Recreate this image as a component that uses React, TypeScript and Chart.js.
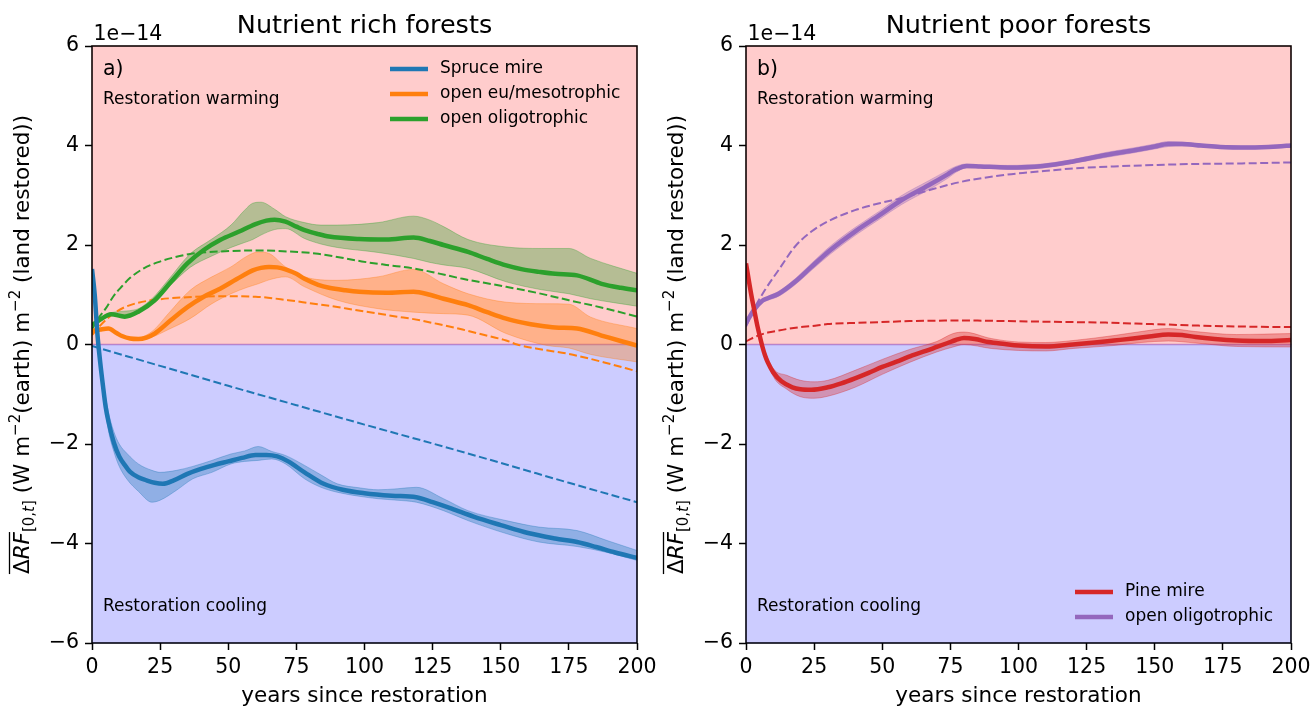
import React, { useEffect, useRef } from "react";
import { Chart, registerables } from "chart.js";
Chart.register(...registerables);

const F = '"DejaVu Sans", sans-serif';

// ---------- Panel a) Nutrient rich forests ----------
const spruceYears = [0, 1, 2, 3, 4, 5, 6, 8, 10, 12, 14, 17, 20, 23, 26, 30, 35, 40, 45, 50, 55, 60, 64, 68, 72, 78, 85, 92, 100, 110, 119, 125, 132, 140, 150, 160, 170, 178, 185, 192, 200];
const spruceMean = [1.52, 1.0, 0.2, -0.35, -0.82, -1.25, -1.54, -1.97, -2.25, -2.42, -2.56, -2.67, -2.73, -2.78, -2.8, -2.73, -2.6, -2.5, -2.42, -2.35, -2.28, -2.22, -2.22, -2.25, -2.35, -2.57, -2.8, -2.92, -2.99, -3.04, -3.07, -3.17, -3.3, -3.46, -3.63, -3.79, -3.9, -3.97, -4.07, -4.18, -4.29];
const spruceBandYears = [0, 2, 4, 6, 8, 10, 13, 17, 22, 25, 31, 37, 44, 51, 56, 61, 66, 71, 78, 84, 90, 98, 105, 112, 119, 129, 138, 152, 164, 178, 189, 200];
const spruceUpper = [1.52, 0.2, -0.72, -1.35, -1.75, -2.0, -2.2, -2.4, -2.53, -2.57, -2.53, -2.45, -2.33, -2.2, -2.14, -2.05, -2.15, -2.23, -2.43, -2.62, -2.8, -2.88, -2.92, -2.9, -2.87, -3.1, -3.34, -3.54, -3.67, -3.74, -3.94, -4.14];
const spruceLower = [1.52, 0.2, -0.92, -1.72, -2.15, -2.45, -2.72, -2.95, -3.17, -3.13, -2.93, -2.7, -2.57, -2.4, -2.35, -2.33, -2.3, -2.4, -2.7, -2.87, -2.97, -3.05, -3.1, -3.13, -3.17, -3.34, -3.54, -3.8, -3.97, -4.06, -4.18, -4.34];
const spruceModelYears = [0, 25, 50, 75, 100, 125, 150, 175, 200];
const spruceModel = [-0.03, -0.43, -0.83, -1.22, -1.61, -1.99, -2.38, -2.78, -3.17];

const euYears = [0, 3, 6, 9, 11, 14, 17, 20, 23, 29, 35, 41, 47, 53, 59, 62, 65, 68, 71, 75, 78, 83, 87, 93, 98, 108, 118, 124, 129, 138, 145, 152, 158, 164, 170, 178, 187, 194, 200];
const euMean = [0.27, 0.3, 0.32, 0.23, 0.17, 0.12, 0.11, 0.14, 0.22, 0.49, 0.75, 0.96, 1.12, 1.31, 1.49, 1.54, 1.56, 1.55, 1.51, 1.42, 1.32, 1.2, 1.14, 1.09, 1.06, 1.04, 1.06, 1.0, 0.92, 0.79, 0.65, 0.52, 0.44, 0.38, 0.34, 0.32, 0.18, 0.07, -0.02];
const euBandYears = [0, 6, 11, 16, 22, 28, 36, 44, 51, 57, 61, 65, 71, 78, 90, 105, 118, 129, 138, 152, 167, 175, 183, 200];
const euUpper = [0.27, 0.33, 0.19, 0.13, 0.26, 0.62, 1.09, 1.36, 1.56, 1.78, 1.86, 1.83, 1.56, 1.36, 1.29, 1.36, 1.51, 1.22, 1.02, 0.85, 0.82, 0.81, 0.55, 0.32];
const euLower = [0.27, 0.31, 0.15, 0.09, 0.15, 0.3, 0.52, 0.82, 1.02, 1.15, 1.22, 1.3, 1.36, 1.16, 0.89, 0.72, 0.65, 0.62, 0.59, 0.22, -0.02, -0.07, -0.2, -0.35];
const euModelYears = [0, 3, 6, 9, 12, 17, 25, 35, 47, 60, 72, 80, 88, 96, 104, 112, 118, 127, 136, 144, 152, 156, 165, 175, 188, 200];
const euModel = [0.19, 0.38, 0.54, 0.66, 0.75, 0.84, 0.91, 0.95, 0.97, 0.96, 0.89, 0.83, 0.77, 0.7, 0.63, 0.56, 0.51, 0.41, 0.3, 0.19, 0.08, 0.0, -0.1, -0.19, -0.36, -0.54];

const oligoRichYears = [0, 3, 7, 12, 17, 23, 29, 35, 41, 47, 54, 60, 64, 67, 71, 75, 78, 83, 87, 98, 108, 118, 124, 129, 138, 145, 152, 158, 164, 170, 178, 187, 194, 200];
const oligoRichMean = [0.39, 0.5, 0.61, 0.56, 0.66, 0.89, 1.26, 1.63, 1.9, 2.1, 2.27, 2.42, 2.49, 2.51, 2.47, 2.37, 2.3, 2.22, 2.17, 2.12, 2.11, 2.15, 2.08, 2.0, 1.86, 1.72, 1.59, 1.51, 1.46, 1.42, 1.39, 1.22, 1.14, 1.09];
const oligoRichBandYears = [0, 7, 16, 22, 28, 36, 44, 51, 56, 59, 62, 67, 71, 78, 84, 90, 105, 118, 124, 129, 138, 152, 165, 175, 183, 200];
const oligoRichUpper = [0.39, 0.64, 0.7, 0.92, 1.3, 1.82, 2.12, 2.4, 2.7, 2.84, 2.86, 2.72, 2.57, 2.45, 2.4, 2.4, 2.45, 2.58, 2.5, 2.37, 2.11, 1.96, 1.93, 1.93, 1.73, 1.43];
const oligoRichLower = [0.39, 0.58, 0.63, 0.85, 1.15, 1.55, 1.78, 1.95, 2.05, 2.11, 2.2, 2.31, 2.33, 2.13, 2.02, 1.95, 1.85, 1.73, 1.65, 1.6, 1.53, 1.26, 1.1, 1.02, 0.92, 0.77];
const oligoRichModelYears = [0, 2, 5, 8, 11, 14, 19, 24, 30, 36, 47, 60, 72, 82, 90, 99, 108, 118, 127, 136, 144, 152, 164, 175, 188, 200];
const oligoRichModel = [0.3, 0.5, 0.72, 0.98, 1.17, 1.34, 1.53, 1.65, 1.75, 1.82, 1.87, 1.89, 1.87, 1.83, 1.76, 1.67, 1.6, 1.53, 1.43, 1.32, 1.24, 1.16, 1.03, 0.89, 0.73, 0.56];

// ---------- Panel b) Nutrient poor forests ----------
const pineYears = [0, 2, 3, 4, 5, 6, 7, 8, 10, 13, 17, 20, 24, 30, 35, 40, 45, 50, 55, 61, 66, 70, 74, 77, 80, 84, 89, 95, 100, 110, 120, 128, 135, 142, 148, 155, 160, 165, 172, 180, 190, 200];
const pineMean = [1.63, 0.98, 0.7, 0.42, 0.18, -0.04, -0.22, -0.36, -0.56, -0.74, -0.86, -0.9, -0.91, -0.86, -0.78, -0.68, -0.57, -0.45, -0.35, -0.22, -0.13, -0.05, 0.03, 0.09, 0.13, 0.11, 0.05, 0.01, -0.02, -0.04, 0.0, 0.04, 0.08, 0.12, 0.16, 0.2, 0.19, 0.15, 0.11, 0.08, 0.07, 0.09];
const pineBandYears = [0, 5, 10, 15, 20, 25, 30, 40, 50, 60, 70, 76, 80, 90, 100, 110, 120, 135, 145, 155, 165, 180, 200];
const pineUpper = [1.63, 0.21, -0.48, -0.62, -0.72, -0.75, -0.72, -0.52, -0.3, -0.1, 0.06, 0.22, 0.25, 0.12, 0.05, 0.04, 0.08, 0.18, 0.26, 0.32, 0.26, 0.2, 0.22];
const pineLower = [1.63, 0.15, -0.64, -0.9, -1.05, -1.08, -1.04, -0.86, -0.6, -0.36, -0.15, -0.05, 0.0, -0.08, -0.12, -0.13, -0.08, -0.02, 0.04, 0.07, 0.03, -0.04, -0.05];
const pineModelYears = [0, 2, 5, 8, 12, 16, 20, 24, 30, 38, 49, 60, 73, 85, 96, 108, 120, 132, 143, 155, 166, 183, 200];
const pineModel = [0.06, 0.12, 0.19, 0.24, 0.28, 0.32, 0.35, 0.37, 0.41, 0.43, 0.45, 0.47, 0.48, 0.48, 0.47, 0.46, 0.45, 0.44, 0.42, 0.4, 0.38, 0.36, 0.35];

const oligoPoorYears = [0, 3, 6, 8, 12, 18, 24, 31, 40, 49, 57, 67, 74, 77, 81, 86, 96, 109, 120, 132, 143, 150, 155, 160, 167, 174, 185, 195, 200];
const oligoPoorMean = [0.43, 0.7, 0.88, 0.93, 1.02, 1.26, 1.56, 1.9, 2.27, 2.6, 2.9, 3.2, 3.42, 3.52, 3.59, 3.58, 3.56, 3.59, 3.68, 3.81, 3.91, 3.98, 4.03, 4.03, 4.0, 3.97, 3.96, 3.98, 4.0];
const oligoPoorUpper = [0.45, 0.73, 0.91, 0.97, 1.07, 1.32, 1.63, 1.98, 2.35, 2.68, 2.99, 3.29, 3.5, 3.58, 3.63, 3.61, 3.6, 3.63, 3.72, 3.86, 3.96, 4.03, 4.08, 4.07, 4.03, 4.0, 3.99, 4.01, 4.03];
const oligoPoorLower = [0.41, 0.67, 0.85, 0.89, 0.97, 1.2, 1.49, 1.82, 2.19, 2.52, 2.81, 3.11, 3.34, 3.46, 3.55, 3.55, 3.52, 3.55, 3.64, 3.76, 3.86, 3.93, 3.98, 3.99, 3.97, 3.94, 3.93, 3.95, 3.97];
const oligoPoorModelYears = [0, 3, 7, 12, 18, 24, 31, 40, 49, 57, 67, 79, 95, 104, 112, 120, 135, 151, 166, 182, 200];
const oligoPoorModel = [0.36, 0.72, 1.1, 1.5, 1.97, 2.27, 2.5, 2.7, 2.84, 2.94, 3.1, 3.27, 3.41, 3.46, 3.5, 3.54, 3.58, 3.61, 3.63, 3.64, 3.66];

const xTicksStep = 25;
const yTicksStep = 2;
const xMin = 0, xMax = 200, yMin = -6, yMax = 6;

const BLUE = [31, 119, 180];
const ORANGE = [255, 127, 14];
const GREEN = [44, 160, 44];
const RED = [214, 39, 40];
const PURPLE = [148, 103, 189];
const rgba = (c: number[], a: number) => `rgba(${c[0]},${c[1]},${c[2]},${a})`;

type SeriesDef = {
  label: string;
  color: number[];
  years: number[];
  mean: number[];
  bandYears: number[];
  upper: number[];
  lower: number[];
  modelYears: number[];
  model: number[];
};

const richSeries: SeriesDef[] = [
  { label: "Spruce mire", color: BLUE, years: spruceYears, mean: spruceMean, bandYears: spruceBandYears, upper: spruceUpper, lower: spruceLower, modelYears: spruceModelYears, model: spruceModel },
  { label: "open eu/mesotrophic", color: ORANGE, years: euYears, mean: euMean, bandYears: euBandYears, upper: euUpper, lower: euLower, modelYears: euModelYears, model: euModel },
  { label: "open oligotrophic", color: GREEN, years: oligoRichYears, mean: oligoRichMean, bandYears: oligoRichBandYears, upper: oligoRichUpper, lower: oligoRichLower, modelYears: oligoRichModelYears, model: oligoRichModel },
];
const poorSeries: SeriesDef[] = [
  { label: "Pine mire", color: RED, years: pineYears, mean: pineMean, bandYears: pineBandYears, upper: pineUpper, lower: pineLower, modelYears: pineModelYears, model: pineModel },
  { label: "open oligotrophic", color: PURPLE, years: oligoPoorYears, mean: oligoPoorMean, bandYears: oligoPoorYears, upper: oligoPoorUpper, lower: oligoPoorLower, modelYears: oligoPoorModelYears, model: oligoPoorModel },
];

const pts = (xs: number[], ys: number[]) => xs.map((x, i) => ({ x, y: ys[i] }));

function buildDatasets(series: SeriesDef[]) {
  const ds: any[] = [];
  series.forEach((s) => {
    const lowerIdx = ds.length;
    ds.push({
      label: s.label + " lower",
      data: pts(s.bandYears, s.lower),
      borderColor: rgba(s.color, 0.35),
      borderWidth: 1,
      fill: false,
      order: 2,
      pointRadius: 0,
      cubicInterpolationMode: "monotone",
    });
    ds.push({
      label: s.label + " upper",
      data: pts(s.bandYears, s.upper),
      borderColor: rgba(s.color, 0.35),
      backgroundColor: rgba(s.color, 0.35),
      borderWidth: 1,
      fill: lowerIdx,
      order: 2,
      pointRadius: 0,
      cubicInterpolationMode: "monotone",
    });
    ds.push({
      label: s.label + " model",
      data: pts(s.modelYears, s.model),
      borderColor: rgba(s.color, 1),
      borderWidth: 2,
      borderDash: [8, 3.5],
      fill: false,
      order: 1,
      pointRadius: 0,
      cubicInterpolationMode: "monotone",
    });
    ds.push({
      label: s.label,
      data: pts(s.years, s.mean),
      borderColor: rgba(s.color, 1),
      borderWidth: 4.5,
      fill: false,
      order: 0,
      pointRadius: 0,
      cubicInterpolationMode: "monotone",
    });
  });
  return ds;
}

function drawYLabel(ctx: CanvasRenderingContext2D, cx: number, cy: number) {
  const big = 21.5, small = 15;
  const pieces = [
    { t: "Δ", f: `${big}px ${F}`, dy: 0, over: true },
    { t: "RF", f: `italic ${big}px ${F}`, dy: 0, over: true },
    { t: "[0,", f: `${small}px ${F}`, dy: 5, over: false },
    { t: "t", f: `italic ${small}px ${F}`, dy: 5, over: false },
    { t: "]", f: `${small}px ${F}`, dy: 5, over: false },
    { t: " (W m", f: `${big}px ${F}`, dy: 0, over: false },
    { t: "−2", f: `${small}px ${F}`, dy: -9, over: false },
    { t: "(earth) m", f: `${big}px ${F}`, dy: 0, over: false },
    { t: "−2", f: `${small}px ${F}`, dy: -9, over: false },
    { t: " (land restored))", f: `${big}px ${F}`, dy: 0, over: false },
  ];
  ctx.save();
  const widths = pieces.map((p) => {
    ctx.font = p.f;
    return ctx.measureText(p.t).width;
  });
  const total = widths.reduce((a, b) => a + b, 0);
  ctx.translate(cx, cy);
  ctx.rotate(-Math.PI / 2);
  ctx.fillStyle = "#000";
  ctx.textBaseline = "alphabetic";
  ctx.textAlign = "left";
  let x = -total / 2;
  const base = 7;
  let overStart = x, overEnd = x;
  pieces.forEach((p, i) => {
    ctx.font = p.f;
    ctx.fillText(p.t, x, base + p.dy);
    if (p.over) overEnd = x + widths[i];
    x += widths[i];
  });
  ctx.strokeStyle = "#000";
  ctx.lineWidth = 1.3;
  ctx.beginPath();
  ctx.moveTo(overStart, base - 19.5);
  ctx.lineTo(overEnd, base - 19.5);
  ctx.stroke();
  ctx.restore();
}

type PanelCfg = {
  series: SeriesDef[];
  title: string;
  tag: string;
  leftWidth: number;
  rightPad: number;
  legend: { x: number; y: number };
};

function makePlugin(cfg: PanelCfg) {
  return {
    id: "decor",
    beforeDraw(chart: any) {
      const { ctx, chartArea: a, scales } = chart;
      const y0 = scales.y.getPixelForValue(0);
      ctx.save();
      ctx.fillStyle = "#fff";
      ctx.fillRect(0, 0, chart.width, chart.height);
      ctx.fillStyle = "rgba(255,0,0,0.2)";
      ctx.fillRect(a.left, a.top, a.right - a.left, y0 - a.top);
      ctx.strokeStyle = "rgba(255,0,0,0.2)";
      ctx.lineWidth = 1.5;
      ctx.strokeRect(a.left, a.top, a.right - a.left, y0 - a.top);
      ctx.fillStyle = "rgba(0,0,255,0.2)";
      ctx.fillRect(a.left, y0, a.right - a.left, a.bottom - y0);
      ctx.strokeStyle = "rgba(0,0,255,0.2)";
      ctx.strokeRect(a.left, y0, a.right - a.left, a.bottom - y0);
      ctx.restore();
    },
    afterDraw(chart: any) {
      const { ctx, chartArea: a } = chart;
      ctx.save();
      ctx.strokeStyle = "#000";
      ctx.lineWidth = 1.5;
      ctx.strokeRect(a.left, a.top, a.right - a.left, a.bottom - a.top);
      ctx.fillStyle = "#000";
      ctx.font = `25.5px ${F}`;
      ctx.textAlign = "center";
      ctx.textBaseline = "alphabetic";
      ctx.fillText(cfg.title, (a.left + a.right) / 2, 33);
      ctx.font = `20.5px ${F}`;
      ctx.textAlign = "left";
      ctx.fillText("1e−14", a.left + 1.5, 40);
      ctx.font = `21.5px ${F}`;
      ctx.textAlign = "center";
      ctx.fillText("years since restoration", (a.left + a.right) / 2, 702);
      ctx.textAlign = "left";
      ctx.textBaseline = "middle";
      ctx.font = `20.5px ${F}`;
      ctx.fillText(cfg.tag, a.left + 11, 70);
      ctx.font = `17px ${F}`;
      ctx.fillText("Restoration warming", a.left + 11, 100);
      ctx.fillText("Restoration cooling", a.left + 11, 607);
      cfg.series.forEach((s, i) => {
        const y = cfg.legend.y + i * 25;
        ctx.strokeStyle = rgba(s.color, 1);
        ctx.lineWidth = 4.5;
        ctx.beginPath();
        ctx.moveTo(cfg.legend.x, y);
        ctx.lineTo(cfg.legend.x + 38, y);
        ctx.stroke();
        ctx.fillStyle = "#000";
        ctx.font = `17px ${F}`;
        ctx.fillText(s.label, cfg.legend.x + 50, y);
      });
      drawYLabel(ctx, a.left - 70, (a.top + a.bottom) / 2);
      ctx.restore();
    },
  };
}

function Panel({ cfg, left }: { cfg: PanelCfg; left: number }) {
  const ref = useRef<HTMLCanvasElement | null>(null);
  useEffect(() => {
    if (!ref.current) return;
    const chart = new Chart(ref.current, {
      type: "line",
      data: { datasets: buildDatasets(cfg.series) },
      options: {
        animation: false,
        responsive: false,
        maintainAspectRatio: false,
        layout: { padding: { top: 46, right: cfg.rightPad, bottom: 0, left: 0 } },
        plugins: {
          legend: { display: false },
          tooltip: { enabled: false },
          title: { display: false },
        },
        elements: { point: { radius: 0 } },
        scales: {
          x: {
            type: "linear",
            min: xMin,
            max: xMax,
            ticks: { stepSize: xTicksStep, color: "#000", font: { family: F, size: 20.5 }, padding: 5, maxRotation: 0 },
            grid: { display: true, drawOnChartArea: false, drawTicks: true, tickLength: 7, tickWidth: 1.5, tickColor: "#000", color: "#000" },
            border: { display: false },
            afterFit: (s: any) => {
              s.height = 64;
              s.paddingLeft = 0;
              s.paddingRight = 0;
            },
          },
          y: {
            type: "linear",
            min: yMin,
            max: yMax,
            ticks: {
              stepSize: yTicksStep,
              color: "#000",
              font: { family: F, size: 20.5 },
              padding: 6,
              callback: (v: any) => (v < 0 ? "−" + Math.abs(v) : String(v)),
            },
            grid: { display: true, drawOnChartArea: false, drawTicks: true, tickLength: 7, tickWidth: 1.5, tickColor: "#000", color: "#000" },
            border: { display: false },
            afterFit: (s: any) => {
              s.width = cfg.leftWidth;
              s.paddingTop = 0;
              s.paddingBottom = 0;
            },
          },
        },
      } as any,
      plugins: [makePlugin(cfg)],
    });
    return () => chart.destroy();
  }, []);
  return (
    <canvas
      ref={ref}
      width={656}
      height={707}
      style={{ position: "absolute", left, top: 0, width: 656, height: 707 }}
    />
  );
}

const richCfg: PanelCfg = {
  series: richSeries,
  title: "Nutrient rich forests",
  tag: "a)",
  leftWidth: 92,
  rightPad: 19,
  legend: { x: 390, y: 69 },
};
const poorCfg: PanelCfg = {
  series: poorSeries,
  title: "Nutrient poor forests",
  tag: "b)",
  leftWidth: 90,
  rightPad: 21,
  legend: { x: 419, y: 592 },
};

export default function App() {
  return (
    <div style={{ position: "absolute", left: 0, top: 0, width: 1312, height: 707, background: "#fff", overflow: "hidden" }}>
      <Panel cfg={richCfg} left={0} />
      <Panel cfg={poorCfg} left={656} />
    </div>
  );
}
